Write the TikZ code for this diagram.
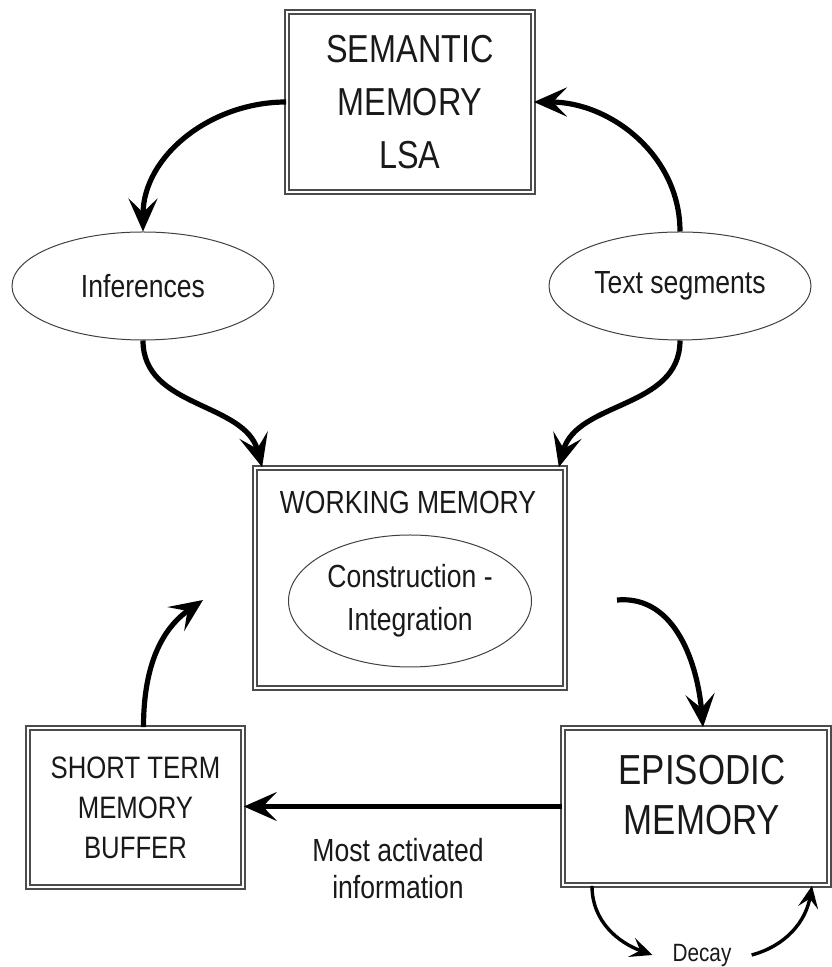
\documentclass[tikz,border=0pt]{standalone}
\usepackage{fontspec}
\setmainfont{Liberation Sans}[FakeStretch=0.83]
\usetikzlibrary{shapes.geometric,arrows.meta,calc}

\tikzset{
	mem/.style={draw=black!70, double=white, double distance=2pt, line width=1.7pt, inner sep=0pt, align=center, text=black!90},
	oval/.style={ellipse, draw=black!75, line width=1pt, inner sep=0pt, align=center, text=black!90},
	flow/.style={line width=5.2pt, -{Stealth[length=33pt,width=29pt,inset=14pt]}},
	thinflow/.style={line width=3.4pt, -{Stealth[length=22pt,width=20pt,inset=9pt]}},
}

\begin{document}
\begin{tikzpicture}[x=1pt,y=1pt]
		\useasboundingbox (0,0) rectangle (831,967);
		\node[mem, minimum width=246pt, minimum height=180pt, font=\fontsize{39}{53}\selectfont] (sem) at (410,865) {SEMANTIC\\MEMORY\\LSA};
		\node[oval, minimum width=262pt, minimum height=108pt, font=\fontsize{32}{38}\selectfont] (inf) at (143,681) {Inferences};
		\node[oval, minimum width=262pt, minimum height=108pt, font=\fontsize{32}{38}\selectfont] (txt) at (680,681) {Text segments};
		\node[mem, minimum width=310pt, minimum height=220pt] (wm) at (410,389) {};
		\node[font=\fontsize{32}{38}\selectfont, text=black!90] (wmtxt) at (408,465) {WORKING MEMORY};
		\node[oval, minimum width=243pt, minimum height=132pt, font=\fontsize{32}{43}\selectfont] (ci) at (410,366) {Construction -\\Integration};
		\node[mem, minimum width=266pt, minimum height=157pt] (epi) at (696,160.5) {};
		\node[font=\fontsize{42}{50}\selectfont, align=center, text=black!90] (epitxt) at (702,172) {EPISODIC\\MEMORY};
		\node[mem, minimum width=215pt, minimum height=159pt, font=\fontsize{31}{40}\selectfont] (stm) at (135.5,159.5) {SHORT TERM\\MEMORY\\BUFFER};
		\node[font=\fontsize{32}{37}\selectfont, align=center, text=black!90] (most) at (398,98.5) {Most activated\\information};
		\node[font=\fontsize{25}{30}\selectfont, text=black!90, inner xsep=20pt] (decay) at (702,12) {Decay};
		\coordinate (wmout) at (617,367);
		\coordinate (stmend) at (203,367);

		\draw[flow] (sem.west) to[out=180,in=90] (inf.north);
		\draw[flow] (txt.north) to[out=90,in=0] (sem.east);
		\draw[flow] (inf.south) to[out=-90,in=105] ([xshift=8pt]wm.north west);
		\draw[flow] (txt.south) to[out=-90,in=75] ([xshift=-7pt]wm.north east);
		\draw[flow] (wmout) to[out=5,in=95] ([xshift=7pt]epi.north);
		\draw[flow] (epi.west) -- (epi.west -| stm.east);
		\draw[flow] ([xshift=8pt]stm.north) to[out=90,in=215] (stmend);
		\draw[thinflow] ([xshift=-104pt]epi.south) to[out=-90,in=160] (decay.west);
		\draw[thinflow] (decay.east) to[out=15,in=-100] ([xshift=116pt]epi.south);
\end{tikzpicture}
\end{document}
